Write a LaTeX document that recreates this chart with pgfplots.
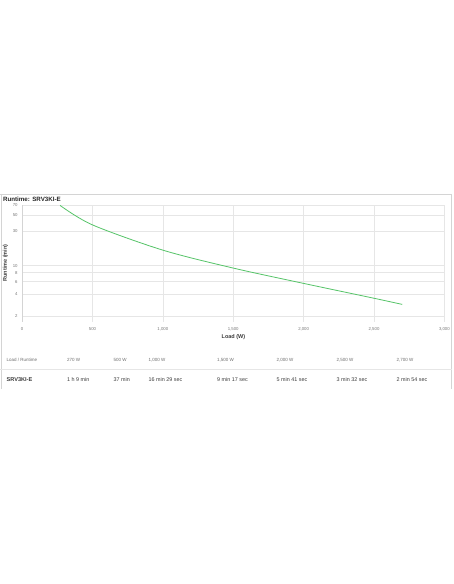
\documentclass[border=0pt]{standalone}
\usepackage{pgfplots}
\pgfplotsset{compat=1.18}
\usepackage{fontspec}
\setmainfont{Liberation Sans}
\definecolor{curvegreen}{RGB}{86,196,104}
\definecolor{gridc}{RGB}{230,230,230}
\definecolor{framec}{RGB}{212,212,212}
\definecolor{tickc}{RGB}{120,120,120}
\definecolor{headc}{RGB}{110,110,110}
\definecolor{rowc}{RGB}{60,60,60}
\begin{document}
\begin{tikzpicture}[x=1pt,y=1pt]
\path[fill=white] (0,0) rectangle (452,584);
% frame
\draw[framec,line width=0.8pt] (0,390) -- (452,390);
\draw[framec,line width=0.8pt] (1,390) -- (1,195);
\draw[framec,line width=0.8pt] (451,390) -- (451,195);
\draw[gridc,line width=0.6pt] (0,214.5) -- (452,214.5);
\begin{axis}[
  at={(21.7pt,262pt)}, anchor=south west,
  scale only axis, width=422.3pt, height=117pt,
  xmin=0, xmax=3000, ymode=log, ymin=1.65, ymax=70,
  xtick={0,500,1000,1500,2000,2500,3000},
  xticklabels={0,500,{1,000},{1,500},{2,000},{2,500},{3,000}},
  ytick={2,4,6,8,10,30,50,70},
  yticklabels={2,4,6,8,10,30,50,70},
  minor ytick={},
  major tick length=0pt,
  grid=major,
  major grid style={gridc,line width=0.5pt},
  axis x line=bottom, axis y line=left,
  x axis line style={draw=none},
  y axis line style={framec,line width=0.6pt,-},
  tick label style={font=\fontsize{4.3}{5}\selectfont, text=tickc},
  xticklabel style={yshift=-1.5pt},
  yticklabel style={xshift=-1pt},
  clip=false,
]
\addplot[curvegreen, line width=0.8pt, smooth] table {
x y
270 69
500 37
1000 16.48
1500 9.28
2000 5.68
2500 3.53
2700 2.9
};
\end{axis}
% title and labels
\node[anchor=west, inner sep=0pt, font=\fontsize{6.2}{7}\selectfont\bfseries, text=black!85] at (2.5,385) {Runtime: SRV3KI-E};
\node[inner sep=0pt, font=\fontsize{5.5}{6}\selectfont\bfseries, text=rowc] at (233,247.3) {Load (W)};
\node[inner sep=0pt, rotate=90, font=\fontsize{5.5}{6}\selectfont\bfseries, text=rowc] at (5,321) {Runtime (min)};
% table
\begin{scope}[every node/.style={anchor=west, inner sep=0pt}]
\foreach \x/\t in {6/{Load / Runtime},66.5/{270 W},113/{500 W},148/{1,000 W},216.5/{1,500 W},276/{2,000 W},336/{2,500 W},396/{2,700 W}}
  \node[font=\fontsize{4.5}{5}\selectfont, text=headc] at (\x,224) {\t};
\node[font=\fontsize{5.6}{6}\selectfont\bfseries, text=rowc] at (6,204) {SRV3KI-E};
\foreach \x/\t in {66.5/{1 h 9 min},113/{37 min},148/{16 min 29 sec},216.5/{9 min 17 sec},276/{5 min 41 sec},336/{3 min 32 sec},396/{2 min 54 sec}}
  \node[font=\fontsize{5.4}{6}\selectfont, text=rowc] at (\x,204) {\t};
\end{scope}
\end{tikzpicture}
\end{document}
